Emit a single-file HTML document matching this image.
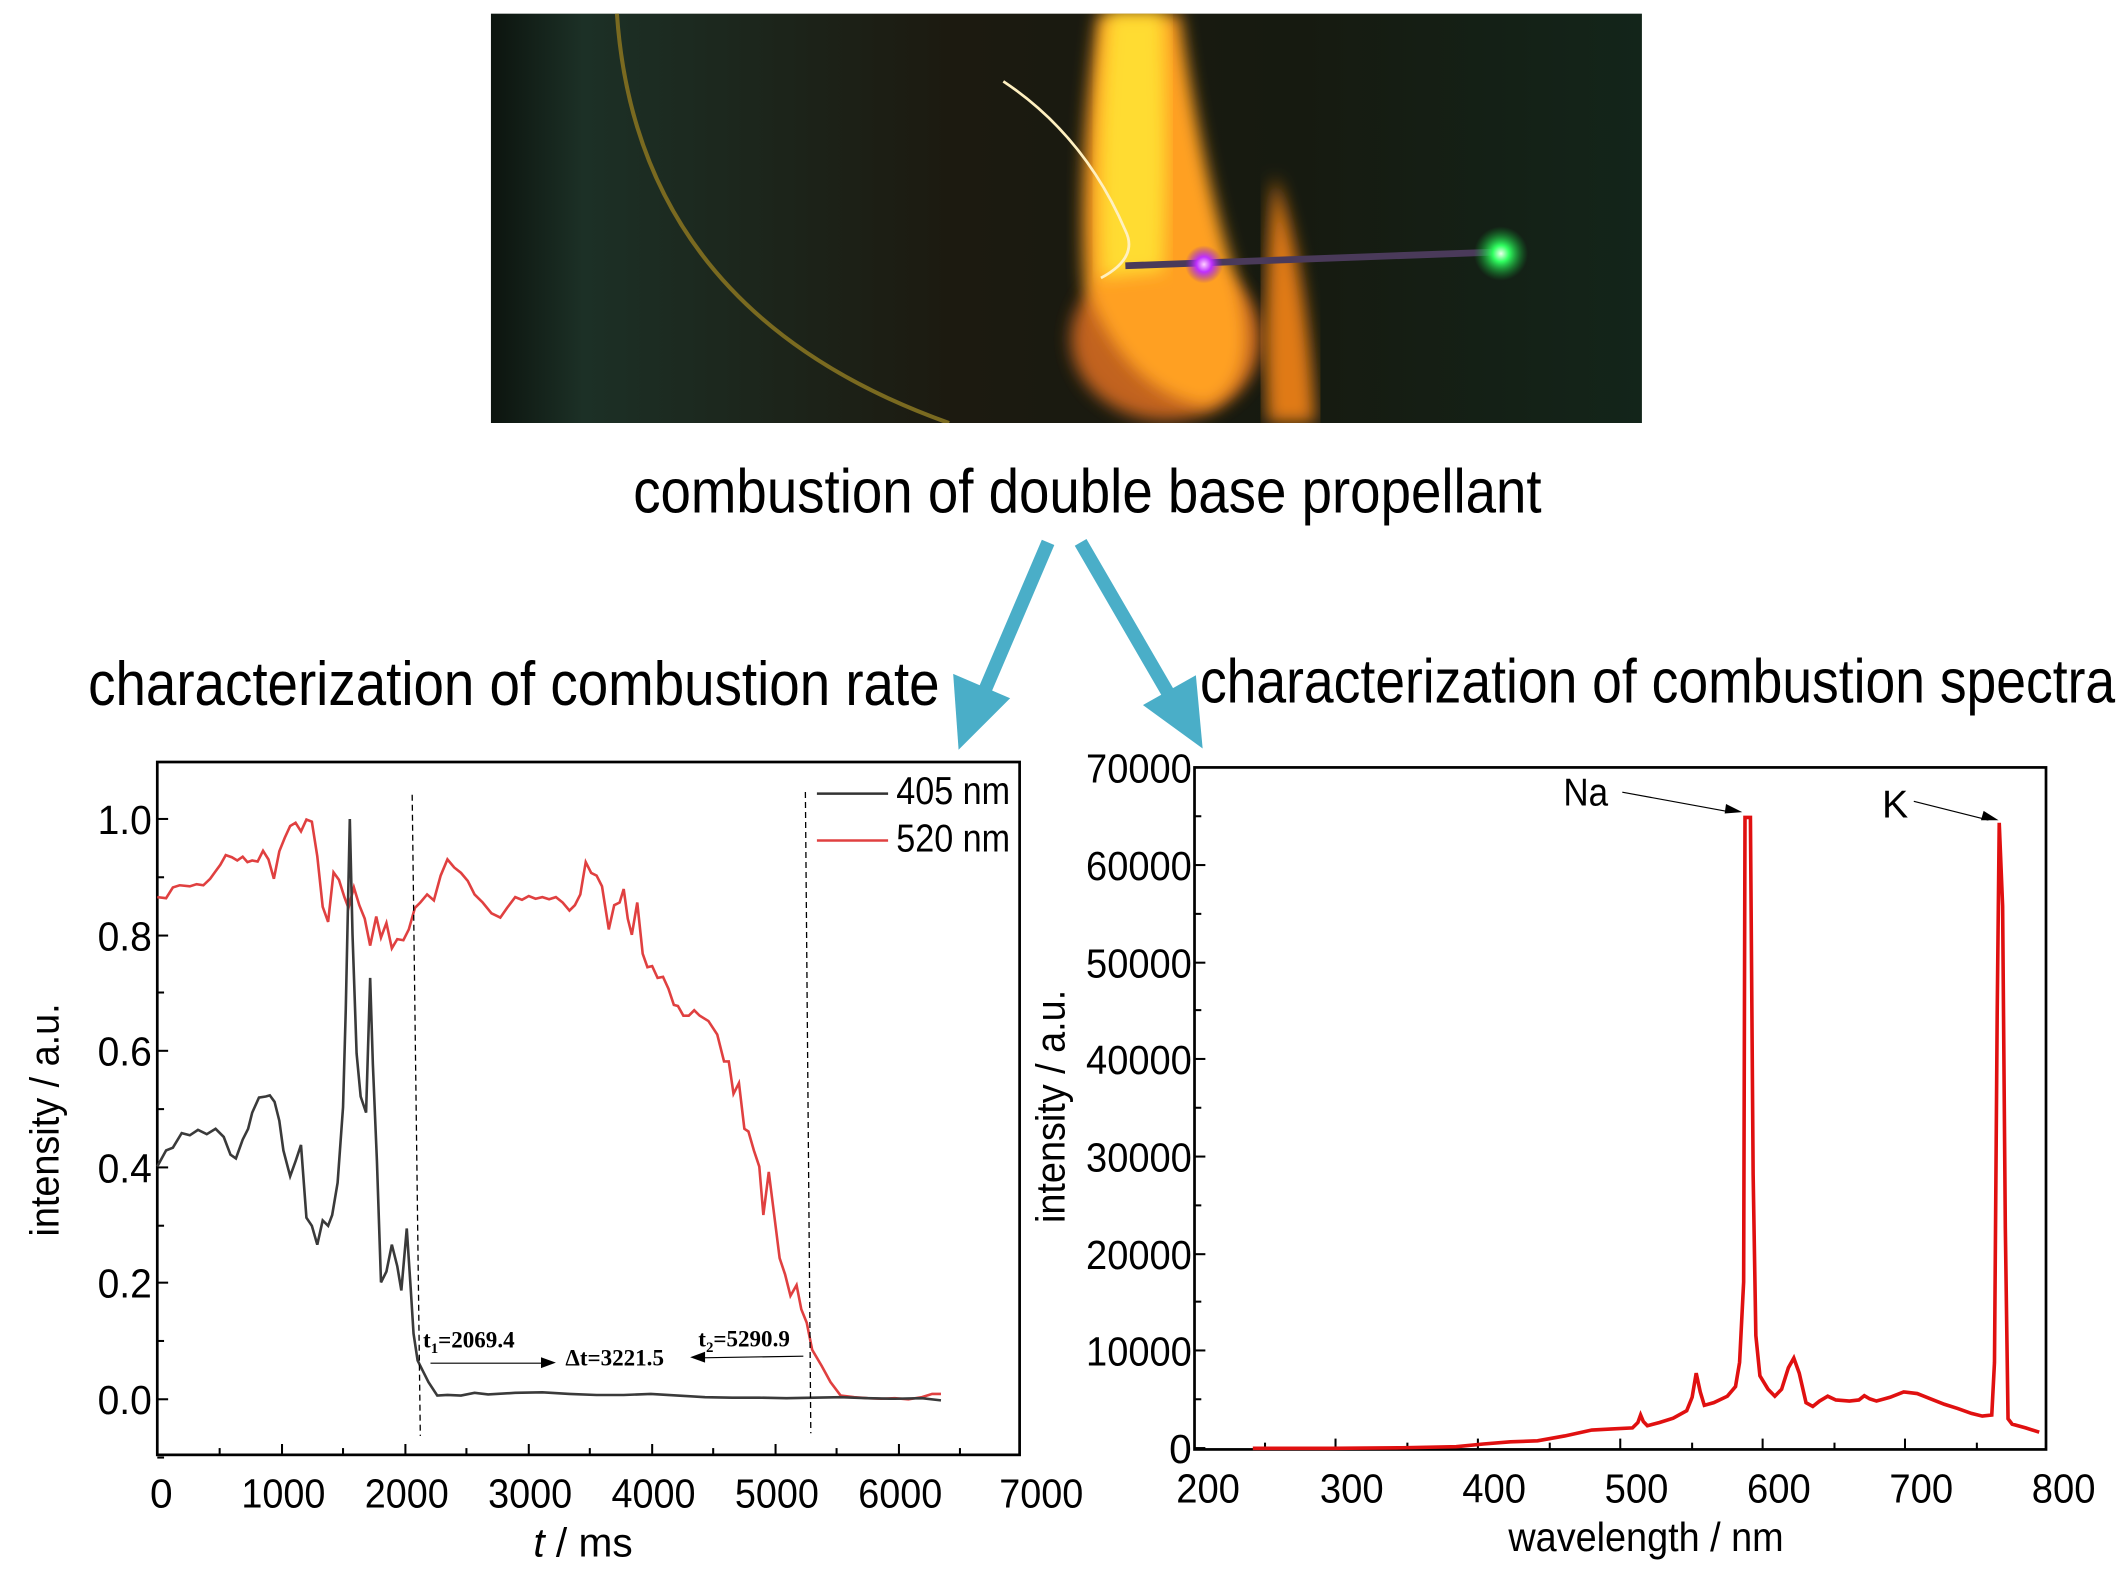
<!DOCTYPE html>
<html><head><meta charset="utf-8"><style>
html,body{margin:0;padding:0;background:#fff;}
svg{display:block;}
text{font-family:"Liberation Sans",sans-serif;}
.n{vector-effect:non-scaling-stroke;fill:none;}
</style></head><body>
<svg width="2126" height="1583" viewBox="0 0 1568 1167.5" xmlns="http://www.w3.org/2000/svg">
<defs>
<linearGradient id="bg" x1="0" y1="0" x2="1" y2="0">
<stop offset="0" stop-color="#0c140e"/><stop offset="0.08" stop-color="#1c3026"/><stop offset="0.4" stop-color="#1c1a10"/><stop offset="0.7" stop-color="#161a10"/><stop offset="1" stop-color="#13251a"/>
</linearGradient>
<radialGradient id="gr" cx="0.5" cy="0.5" r="0.5"><stop offset="0" stop-color="#eaffea"/><stop offset="0.3" stop-color="#30ff60"/><stop offset="1" stop-color="#10a030" stop-opacity="0"/></radialGradient>
<radialGradient id="pu" cx="0.5" cy="0.5" r="0.5"><stop offset="0" stop-color="#ffd0ff"/><stop offset="0.4" stop-color="#c030ff"/><stop offset="1" stop-color="#8020c0" stop-opacity="0"/></radialGradient>
<filter id="bl"><feGaussianBlur stdDeviation="6"/></filter>
<clipPath id="ph"><rect x="362" y="10" width="849" height="302"/></clipPath>
</defs>

<g clip-path="url(#ph)">
<rect x="362" y="10" width="849" height="302" fill="url(#bg)"/>
<path d="M455,10 Q470,230 700,312" stroke="#7a6a20" stroke-width="3" fill="none"/>
<ellipse cx="860" cy="250" rx="70" ry="60" fill="#e07020" filter="url(#bl)" opacity="0.85"/>
<path d="M810,10 L870,10 Q885,120 910,200 Q935,280 890,300 Q830,290 800,210 Q795,120 810,10Z" fill="#ffa020" filter="url(#bl)"/>
<path d="M818,10 L858,10 Q862,120 858,200 L812,205 Q808,110 818,10Z" fill="#ffdc30" filter="url(#bl)"/>
<path d="M940,130 Q965,200 970,312 L935,312 Q930,220 940,130Z" fill="#e07a18" filter="url(#bl)"/>
<path d="M740,60 Q800,100 830,170 Q840,190 812,205" stroke="#fff0c0" stroke-width="2" fill="none"/>
<line x1="830" y1="196" x2="1100" y2="186" stroke="#4a3a5a" stroke-width="5"/>
<circle cx="888" cy="195" r="14" fill="url(#pu)"/>
<circle cx="1107" cy="187" r="20" fill="url(#gr)"/>
</g>

<text x="802" y="378" font-size="46" text-anchor="middle" textLength="670" lengthAdjust="spacingAndGlyphs">combustion of double base propellant</text>

<g fill="#4aaec8" stroke="#4aaec8">
<line x1="773" y1="400" x2="726" y2="510" stroke-width="10"/>
<polygon points="707,553 703,497 745,515" stroke="none"/>
<line x1="797" y1="400" x2="862" y2="512" stroke-width="10"/>
<polygon points="887,552 843,520 882,498" stroke="none"/>
</g>

<text x="65" y="520" font-size="46" textLength="628" lengthAdjust="spacingAndGlyphs">characterization of combustion rate</text>
<text x="885" y="518" font-size="46" textLength="675" lengthAdjust="spacingAndGlyphs">characterization of combustion spectra</text>

<rect x="116" y="562" width="636" height="511" fill="none" stroke="#000" stroke-width="2"/>
<g stroke="#000" stroke-width="1.5">
<line x1="116" y1="1032" x2="124" y2="1032"/><line x1="116" y1="989" x2="121" y2="989"/>
<line x1="116" y1="946" x2="124" y2="946"/><line x1="116" y1="904" x2="121" y2="904"/>
<line x1="116" y1="861" x2="124" y2="861"/><line x1="116" y1="818" x2="121" y2="818"/>
<line x1="116" y1="775" x2="124" y2="775"/><line x1="116" y1="732" x2="121" y2="732"/>
<line x1="116" y1="690" x2="124" y2="690"/><line x1="116" y1="647" x2="121" y2="647"/>
<line x1="116" y1="604" x2="124" y2="604"/><line x1="116" y1="1075" x2="121" y2="1075"/>
<line x1="208" y1="1073" x2="208" y2="1065"/><line x1="299" y1="1073" x2="299" y2="1065"/>
<line x1="390" y1="1073" x2="390" y2="1065"/><line x1="481" y1="1073" x2="481" y2="1065"/>
<line x1="572" y1="1073" x2="572" y2="1065"/><line x1="663" y1="1073" x2="663" y2="1065"/>
<line x1="162" y1="1073" x2="162" y2="1068"/><line x1="253" y1="1073" x2="253" y2="1068"/>
<line x1="344" y1="1073" x2="344" y2="1068"/><line x1="435" y1="1073" x2="435" y2="1068"/>
<line x1="526" y1="1073" x2="526" y2="1068"/><line x1="617" y1="1073" x2="617" y2="1068"/>
<line x1="708" y1="1073" x2="708" y2="1068"/>
</g>
<g font-size="30" text-anchor="end">
<text x="112" y="615" textLength="40" lengthAdjust="spacingAndGlyphs">1.0</text>
<text x="112" y="701" textLength="40" lengthAdjust="spacingAndGlyphs">0.8</text>
<text x="112" y="786" textLength="40" lengthAdjust="spacingAndGlyphs">0.6</text>
<text x="112" y="872" textLength="40" lengthAdjust="spacingAndGlyphs">0.4</text>
<text x="112" y="957" textLength="40" lengthAdjust="spacingAndGlyphs">0.2</text>
<text x="112" y="1043" textLength="40" lengthAdjust="spacingAndGlyphs">0.0</text>
</g>
<g font-size="30" text-anchor="middle">
<text x="119" y="1112">0</text>
<text x="209" y="1112" textLength="62" lengthAdjust="spacingAndGlyphs">1000</text>
<text x="300" y="1112" textLength="62" lengthAdjust="spacingAndGlyphs">2000</text>
<text x="391" y="1112" textLength="62" lengthAdjust="spacingAndGlyphs">3000</text>
<text x="482" y="1112" textLength="62" lengthAdjust="spacingAndGlyphs">4000</text>
<text x="573" y="1112" textLength="62" lengthAdjust="spacingAndGlyphs">5000</text>
<text x="664" y="1112" textLength="62" lengthAdjust="spacingAndGlyphs">6000</text>
<text x="768" y="1112" textLength="62" lengthAdjust="spacingAndGlyphs">7000</text>
</g>
<text x="430" y="1148" font-size="30" text-anchor="middle"><tspan font-style="italic">t</tspan> / ms</text>
<text transform="translate(43,826) rotate(-90)" font-size="30" text-anchor="middle" textLength="172" lengthAdjust="spacingAndGlyphs">intensity / a.u.</text>

<g transform="matrix(0.5,0,0,0.3974,0,546.4)">
<polyline class="n" stroke="#e04040" stroke-width="2.6" points="232,290 245,292 255,272 265,268 280,270 290,266 300,268 310,256 318,242 325,230 333,212 342,216 350,222 358,215 365,225 372,222 380,224 388,204 396,220 404,256 412,205 420,180 428,158 436,152 444,168 452,146 460,150 468,214 476,308 484,336 492,244 500,258 508,290 514,310 522,272 530,305 538,330 546,380 555,326 562,365 570,338 578,385 586,368 595,370 603,350 612,310 620,300 630,285 640,296 650,250 660,220 670,235 680,245 690,260 700,285 712,300 725,320 738,328 748,310 760,290 770,295 780,288 790,293 800,290 810,294 820,290 830,300 840,315 848,305 856,285 864,225 872,245 880,250 888,270 898,350 906,305 914,300 920,275 926,330 932,360 940,300 948,395 955,420 962,418 970,440 978,438 986,460 994,490 1000,492 1008,510 1016,510 1024,500 1032,510 1045,520 1058,545 1068,595 1075,595 1082,655 1090,635 1098,720 1104,725 1112,760 1120,790 1126,880 1134,800 1142,880 1150,960 1158,990 1166,1030 1175,1010 1182,1055 1190,1080 1198,1130 1212,1160 1225,1190 1240,1215 1260,1218 1280,1220 1300,1221 1320,1220 1340,1222 1360,1218 1375,1212 1388,1212"/>
<polyline class="n" stroke="#3a3a3a" stroke-width="2.6" points="232,790 245,760 255,755 268,728 280,732 292,722 305,730 318,720 330,735 340,768 348,775 358,740 366,720 372,690 382,662 392,660 398,658 405,670 412,705 418,760 428,808 436,780 444,750 452,885 460,900 468,935 476,890 484,900 490,880 498,820 506,680 510,500 516,145 520,360 526,580 532,660 540,690 546,440 550,600 556,780 562,1005 570,985 578,935 586,975 592,1020 600,905 606,1020 610,1100 616,1150 624,1170 632,1190 645,1215 660,1214 680,1215 700,1210 720,1213 760,1210 800,1209 840,1212 880,1214 920,1214 960,1212 1000,1215 1040,1218 1080,1219 1120,1219 1160,1220 1200,1219 1240,1218 1280,1220 1320,1221 1360,1220 1388,1224"/>
<line class="n" stroke="#000" stroke-width="1.3" stroke-dasharray="6,4" x1="608" y1="100" x2="620" y2="1290"/>
<line class="n" stroke="#000" stroke-width="1.3" stroke-dasharray="6,4" x1="1188" y1="95" x2="1196" y2="1285"/>
<line class="n" stroke="#333" stroke-width="2.5" x1="1205" y1="98" x2="1310" y2="98"/>
<line class="n" stroke="#e04040" stroke-width="2.5" x1="1205" y1="185" x2="1310" y2="185"/>
<line class="n" stroke="#000" stroke-width="1.2" x1="635" y1="1155" x2="800" y2="1155"/>
<line class="n" stroke="#000" stroke-width="1.2" x1="1185" y1="1142" x2="1035" y2="1145"/>
</g>
<polygon points="410,1005 399,1001 399,1009" fill="#000"/>
<polygon points="509,1001 520,997 520,1005" fill="#000"/>
<text x="661" y="593" font-size="29" textLength="84" lengthAdjust="spacingAndGlyphs">405 nm</text>
<text x="661" y="628" font-size="29" textLength="84" lengthAdjust="spacingAndGlyphs">520 nm</text>
<g style="font-family:'Liberation Serif',serif;font-weight:bold;font-size:17px">
<text x="312" y="994" style="font-family:'Liberation Serif',serif">t<tspan font-size="11" dy="4">1</tspan><tspan dy="-4">=2069.4</tspan></text>
<text x="417" y="1007" style="font-family:'Liberation Serif',serif">Δt=3221.5</text>
<text x="515" y="993" style="font-family:'Liberation Serif',serif">t<tspan font-size="11" dy="4">2</tspan><tspan dy="-4">=5290.9</tspan></text>
</g>

<rect x="881" y="566" width="628" height="503" fill="none" stroke="#000" stroke-width="2"/>
<g stroke="#000" stroke-width="1.5">
<line x1="881" y1="1068" x2="889" y2="1068"/><line x1="881" y1="996" x2="889" y2="996"/>
<line x1="881" y1="925" x2="889" y2="925"/><line x1="881" y1="853" x2="889" y2="853"/>
<line x1="881" y1="781" x2="889" y2="781"/><line x1="881" y1="710" x2="889" y2="710"/>
<line x1="881" y1="638" x2="889" y2="638"/>
<line x1="881" y1="1032" x2="886" y2="1032"/><line x1="881" y1="960" x2="886" y2="960"/>
<line x1="881" y1="889" x2="886" y2="889"/><line x1="881" y1="817" x2="886" y2="817"/>
<line x1="881" y1="745" x2="886" y2="745"/><line x1="881" y1="674" x2="886" y2="674"/>
<line x1="881" y1="602" x2="886" y2="602"/>
<line x1="985" y1="1069" x2="985" y2="1061"/><line x1="1090" y1="1069" x2="1090" y2="1061"/>
<line x1="1195" y1="1069" x2="1195" y2="1061"/><line x1="1300" y1="1069" x2="1300" y2="1061"/>
<line x1="1405" y1="1069" x2="1405" y2="1061"/>
<line x1="933" y1="1069" x2="933" y2="1064"/><line x1="1038" y1="1069" x2="1038" y2="1064"/>
<line x1="1143" y1="1069" x2="1143" y2="1064"/><line x1="1248" y1="1069" x2="1248" y2="1064"/>
<line x1="1353" y1="1069" x2="1353" y2="1064"/><line x1="1458" y1="1069" x2="1458" y2="1064"/>
</g>
<g font-size="30" text-anchor="end">
<text x="879" y="577" textLength="78" lengthAdjust="spacingAndGlyphs">70000</text>
<text x="879" y="649" textLength="78" lengthAdjust="spacingAndGlyphs">60000</text>
<text x="879" y="721" textLength="78" lengthAdjust="spacingAndGlyphs">50000</text>
<text x="879" y="792" textLength="78" lengthAdjust="spacingAndGlyphs">40000</text>
<text x="879" y="864" textLength="78" lengthAdjust="spacingAndGlyphs">30000</text>
<text x="879" y="936" textLength="78" lengthAdjust="spacingAndGlyphs">20000</text>
<text x="879" y="1007" textLength="78" lengthAdjust="spacingAndGlyphs">10000</text>
<text x="879" y="1079">0</text>
</g>
<g font-size="30" text-anchor="middle">
<text x="891" y="1108" textLength="47" lengthAdjust="spacingAndGlyphs">200</text>
<text x="997" y="1108" textLength="47" lengthAdjust="spacingAndGlyphs">300</text>
<text x="1102" y="1108" textLength="47" lengthAdjust="spacingAndGlyphs">400</text>
<text x="1207" y="1108" textLength="47" lengthAdjust="spacingAndGlyphs">500</text>
<text x="1312" y="1108" textLength="47" lengthAdjust="spacingAndGlyphs">600</text>
<text x="1417" y="1108" textLength="47" lengthAdjust="spacingAndGlyphs">700</text>
<text x="1522" y="1108" textLength="47" lengthAdjust="spacingAndGlyphs">800</text>
</g>
<text x="1214" y="1144" font-size="30" text-anchor="middle" textLength="203" lengthAdjust="spacingAndGlyphs">wavelength / nm</text>
<text transform="translate(785,816) rotate(-90)" font-size="30" text-anchor="middle" textLength="172" lengthAdjust="spacingAndGlyphs">intensity / a.u.</text>

<g transform="matrix(0.5,0,0,0.396,784,549.4)">
<polyline class="n" stroke="#e01010" stroke-width="3.6" points="280,1310 400,1310 500,1309 580,1307 620,1302 660,1298 700,1296 740,1287 780,1276 810,1274 840,1272 848,1262 852,1248 856,1260 862,1268 880,1262 900,1254 920,1240 928,1215 934,1170 940,1205 946,1230 960,1225 980,1213 992,1195 998,1150 1004,1000 1006,135 1014,135 1018,800 1022,1100 1028,1175 1040,1200 1050,1213 1060,1200 1070,1160 1078,1142 1086,1170 1096,1225 1106,1232 1116,1222 1128,1213 1140,1220 1160,1222 1174,1220 1182,1212 1190,1218 1200,1222 1220,1215 1240,1205 1260,1208 1280,1218 1300,1228 1320,1236 1340,1245 1356,1250 1370,1248 1374,1150 1378,500 1381,145 1386,300 1390,900 1394,1255 1400,1265 1420,1272 1440,1280"/>
<line class="n" stroke="#000" stroke-width="1.2" x1="825" y1="88" x2="985" y2="125"/>
<line class="n" stroke="#000" stroke-width="1.2" x1="1255" y1="105" x2="1365" y2="140"/>
</g>
<polygon points="1285,599 1273,593 1272,600" fill="#000"/>
<polygon points="1474,605 1463,598 1461,605" fill="#000"/>
<text x="1153" y="594" font-size="29" textLength="33" lengthAdjust="spacingAndGlyphs">Na</text>
<text x="1388" y="603" font-size="29">K</text>
</svg>
</body></html>
